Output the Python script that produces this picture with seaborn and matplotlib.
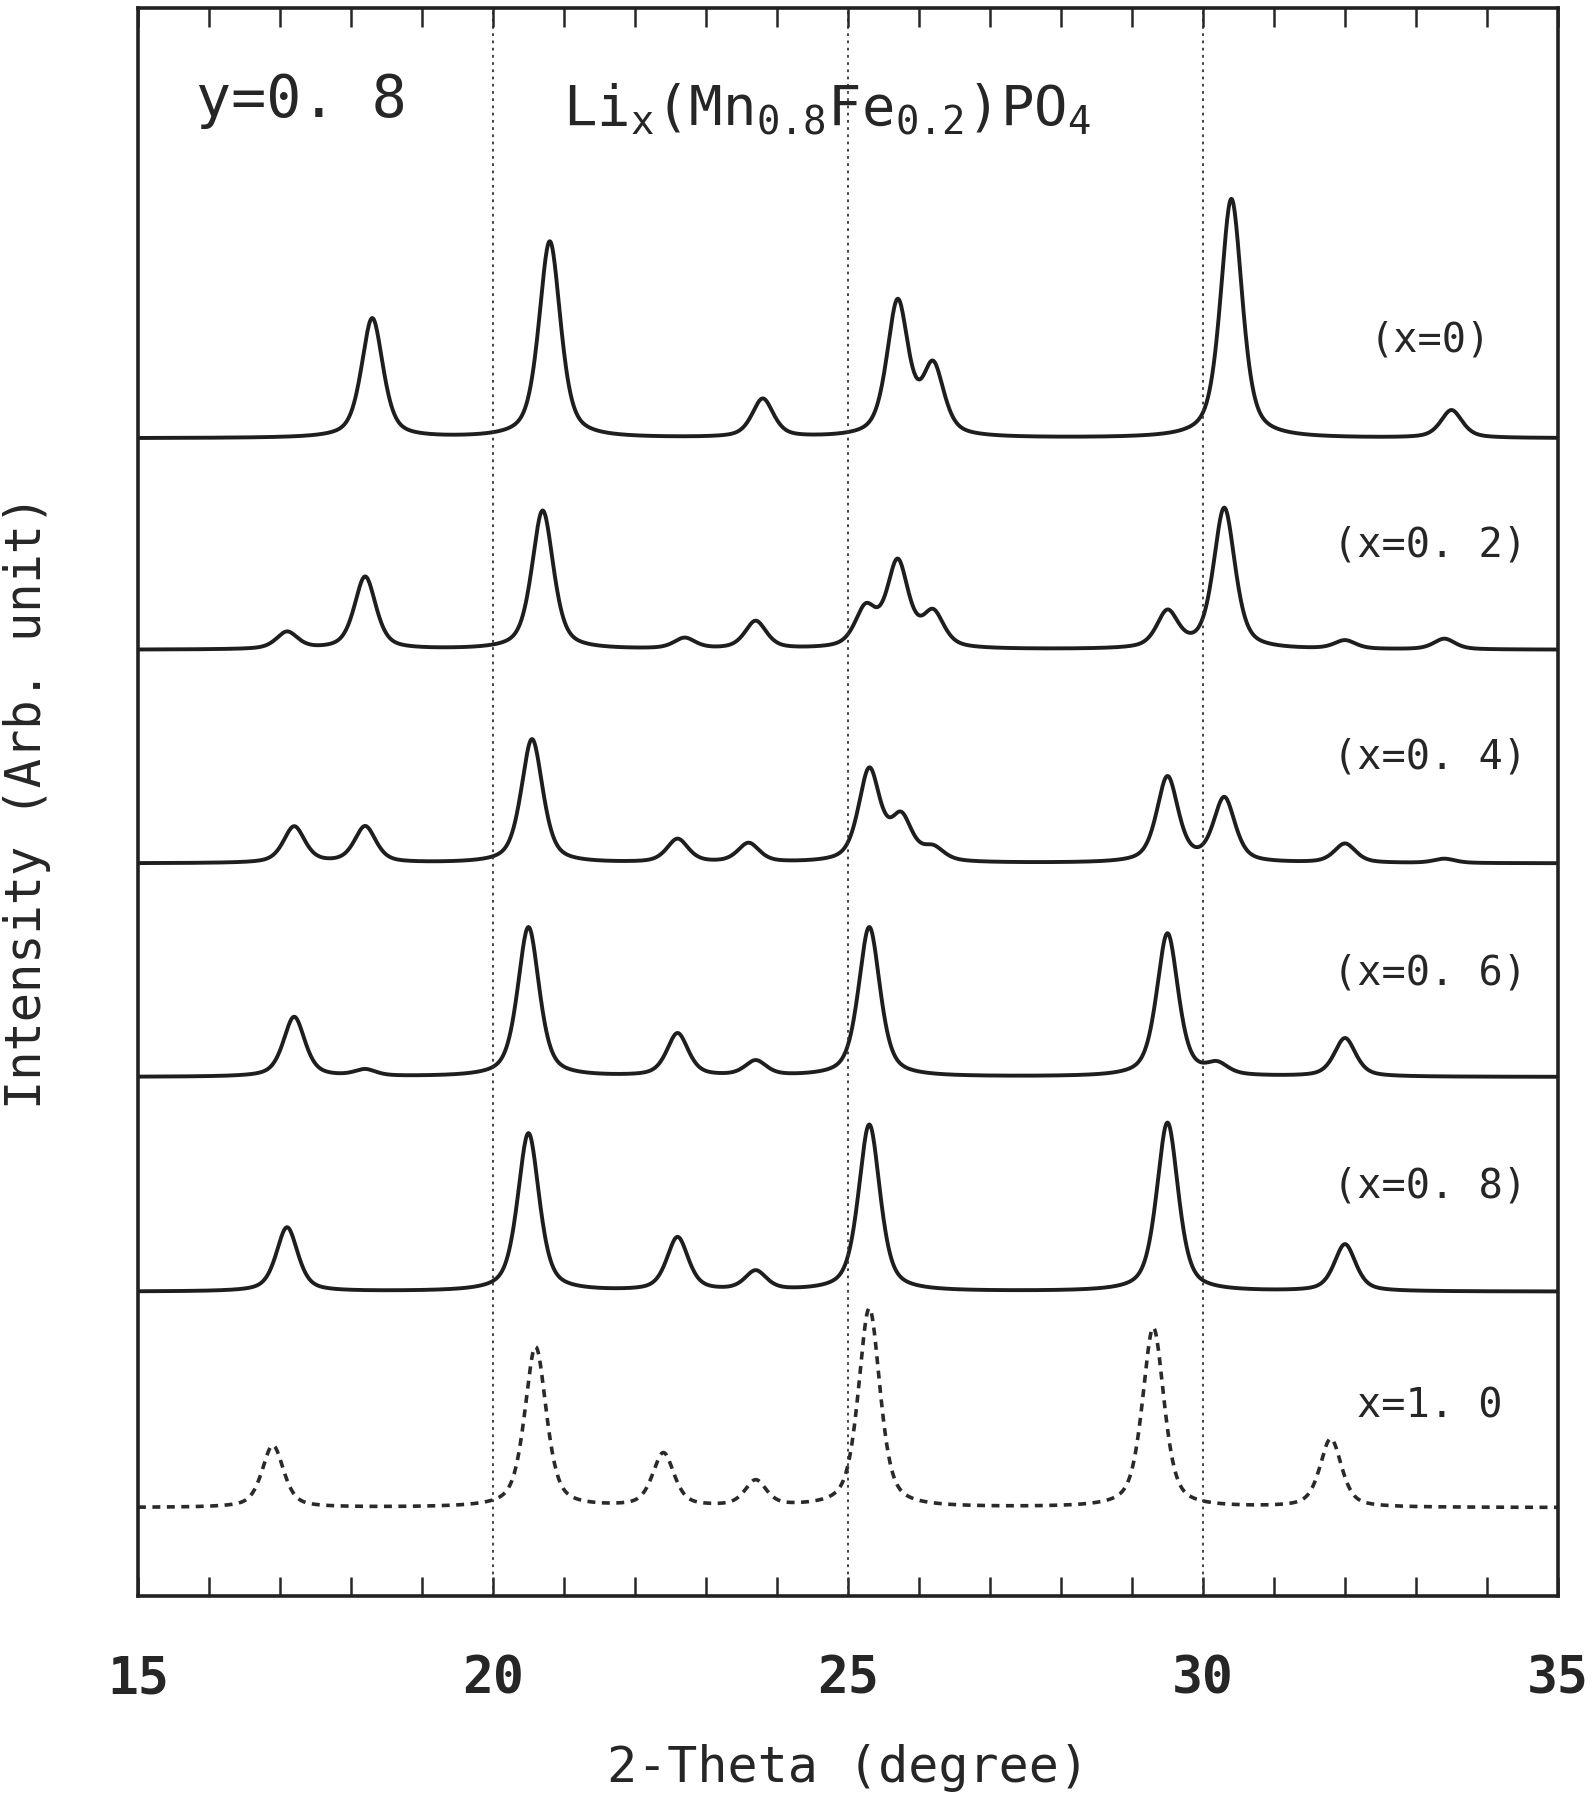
import numpy as np
import pandas as pd
import matplotlib
matplotlib.use("Agg")
import matplotlib.pyplot as plt
import matplotlib.transforms as mtransforms
import seaborn as sns

# ---- données : pics (position 2θ, hauteur relative) ----
samples = ["x=0", "x=0.2", "x=0.4", "x=0.6", "x=0.8", "x=1.0"]
labels = ["(x=0)", "(x=0. 2)", "(x=0. 4)", "(x=0. 6)", "(x=0. 8)", "x=1. 0"]
offsets = [5.42, 4.43, 3.43, 2.43, 1.425, 0.414]

pos_x00 = [18.3, 20.8, 23.8, 25.7, 26.2, 30.4, 33.5]
amp_x00 = [0.56, 0.92, 0.18, 0.63, 0.32, 1.12, 0.13]

pos_x02 = [17.1, 18.2, 20.7, 22.7, 23.7, 25.25, 25.7, 26.2, 29.5, 30.3, 32.0, 33.4]
amp_x02 = [0.08, 0.34, 0.65, 0.05, 0.13, 0.18, 0.40, 0.16, 0.17, 0.66, 0.04, 0.05]

pos_x04 = [17.2, 18.2, 20.55, 22.6, 23.6, 25.3, 25.75, 26.2, 29.5, 30.3, 32.0, 33.4]
amp_x04 = [0.17, 0.17, 0.58, 0.11, 0.09, 0.43, 0.20, 0.06, 0.40, 0.30, 0.09, 0.02]

pos_x06 = [17.2, 18.2, 20.5, 22.6, 23.7, 25.3, 29.5, 30.2, 32.0]
amp_x06 = [0.28, 0.03, 0.70, 0.20, 0.07, 0.70, 0.67, 0.05, 0.18]

pos_x08 = [17.1, 20.5, 22.6, 23.7, 25.3, 29.5, 32.0]
amp_x08 = [0.30, 0.74, 0.25, 0.09, 0.78, 0.79, 0.22]

pos_x10 = [16.9, 20.6, 22.4, 23.7, 25.3, 29.3, 31.8]
amp_x10 = [0.29, 0.75, 0.25, 0.12, 0.93, 0.84, 0.32]

positions = [pos_x00, pos_x02, pos_x04, pos_x06, pos_x08, pos_x10]
amplitudes = [amp_x00, amp_x02, amp_x04, amp_x06, amp_x08, amp_x10]

major_ticks = [15, 20, 25, 30, 35]
minor_ticks = np.arange(15, 36, 1)

fwhm = 0.36
eta = 0.55


def profile(theta, pos, amp):
    # pseudo-Voigt pour chaque pic
    y = np.zeros_like(theta)
    for p, a in zip(pos, amp):
        d = (theta - p) / (fwhm / 2)
        lor = 1 / (1 + d ** 2)
        gau = np.exp(-np.log(2) * d ** 2)
        y += a * (eta * lor + (1 - eta) * gau)
    return y


theta = np.linspace(15, 35, 2001)
rows = []
for s, off, pos, amp in zip(samples, offsets, positions, amplitudes):
    y = off + profile(theta, pos, amp)
    rows.append(pd.DataFrame({"theta": theta, "intensity": y, "sample": s}))
df = pd.concat(rows, ignore_index=True)

# ---- figure ----
sns.set_style("ticks")
plt.rcParams["font.family"] = ["DejaVu Sans Mono", "DejaVu Sans"]
plt.rcParams["mathtext.fontset"] = "custom"
plt.rcParams["mathtext.rm"] = "DejaVu Sans Mono"
plt.rcParams["mathtext.it"] = "DejaVu Sans Mono"
plt.rcParams["mathtext.bf"] = "DejaVu Sans Mono:bold"

fig = plt.figure(figsize=(15.95, 18), dpi=100)
ax = fig.add_axes([0.0865, 0.1133, 0.8903, 0.8823])

for s in samples:
    sub = df[df["sample"] == s]
    if s == "x=1.0":
        sns.lineplot(data=sub, x="theta", y="intensity", ax=ax, color="#2a2a2a",
                     lw=2.6, linestyle=(0, (2.2, 1.8)), sort=False)
    else:
        sns.lineplot(data=sub, x="theta", y="intensity", ax=ax, color="#1e1e1e",
                     lw=2.8, sort=False)

for xv in [20, 25, 30]:
    ax.axvline(xv, color="#333333", lw=1.3, linestyle=(0, (1.5, 2.5)))

ax.set_xlim(15, 35)
ax.set_ylim(0, 7.435)
ax.set_xticks(major_ticks)
ax.set_xticks(minor_ticks, minor=True)
ax.set_yticks([])
ax.tick_params(axis="x", which="both", direction="in",
               length=14, width=1.8, pad=42, labelsize=37)
for lab in ax.get_xticklabels():
    lab.set_fontweight("bold")
for sp in ax.spines.values():
    sp.set_linewidth(2.6)
    sp.set_color("#222222")

# graduations du haut (x en données, y en fraction de l'axe)
trans = mtransforms.blended_transform_factory(ax.transData, ax.transAxes)
ax.vlines(minor_ticks, 0.988, 1.0, transform=trans, color="#262626", lw=1.8,
          clip_on=False)

ax.set_xlabel("2-Theta (degree)", fontsize=36)
ax.set_ylabel("Intensity (Arb. unit)", fontsize=35)
ax.xaxis.set_label_coords(0.5, -0.093)
ax.yaxis.set_label_coords(-0.061, 0.5)

ax.text(17.3, 7.0, "y=0. 8", fontsize=42, ha="center", va="center")
ax.text(20.98, 6.96, r"Li$_{\rm x}$(Mn$_{0.8}$Fe$_{0.2}$)PO$_{4}$", fontsize=40,
        ha="left", va="center")

lab_y = [5.876, 4.919, 3.925, 2.914, 1.919, 0.887]
for t, yy in zip(labels, lab_y):
    ax.text(33.2, yy, t, fontsize=29, ha="center", va="center")

fig.savefig("out.png", dpi=100)
plt.close()
